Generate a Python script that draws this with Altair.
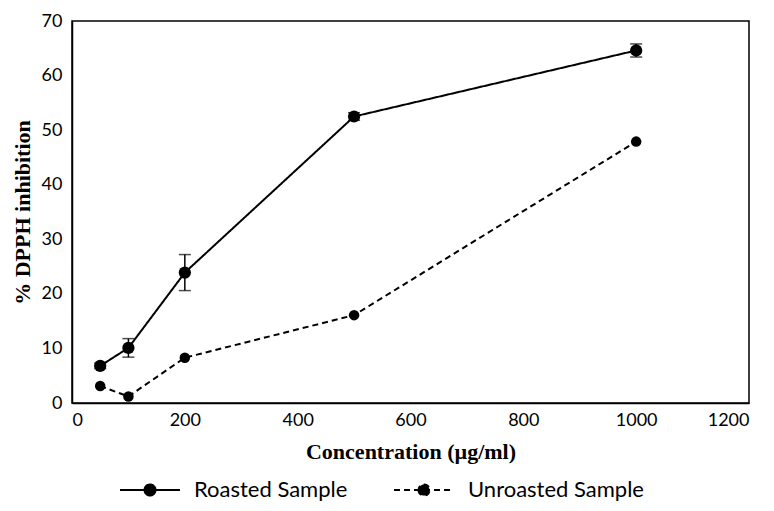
import altair as alt
import pandas as pd

conc = [50, 100, 200, 500, 1000]
roasted = [6.8, 10.1, 23.9, 52.5, 64.6]
roasted_err = [0.5, 1.7, 3.3, 0.7, 1.2]
unroasted = [3.1, 1.2, 8.3, 16.1, 47.9]
series = ["Roasted Sample", "Unroasted Sample"]
x_ticks = [0, 200, 400, 600, 800, 1000, 1200]
y_ticks = [0, 10, 20, 30, 40, 50, 60, 70]

df = pd.DataFrame({
    "conc": conc + conc,
    "value": roasted + unroasted,
    "sample": [series[0]] * len(conc) + [series[1]] * len(conc),
})
err = pd.DataFrame({
    "conc": conc,
    "lo": [v - e for v, e in zip(roasted, roasted_err)],
    "hi": [v + e for v, e in zip(roasted, roasted_err)],
})

YT = "% DPPH inhibition"
XT = "Concentration (µg/ml)"
xs = alt.Scale(domain=[0, 1200], nice=False)
ys = alt.Scale(domain=[0, 70], nice=False)
xax = alt.Axis(values=x_ticks, title=XT, format="d")
yax = alt.Axis(values=y_ticks, title=YT, format="d")

legend_path = ("M-3,0L3,0M-0.55,0A0.55,0.55,0,1,0,0.55,0"
               "A0.55,0.55,0,1,0,-0.55,0Z")

lines = alt.Chart(df).mark_line(color="black", strokeWidth=2).encode(
    x=alt.X("conc:Q", scale=xs, axis=xax),
    y=alt.Y("value:Q", scale=ys, axis=yax),
    strokeDash=alt.StrokeDash(
        "sample:N",
        scale=alt.Scale(domain=series, range=[[1, 0], [6, 4]]),
        legend=alt.Legend(
            title=None, orient="none", legendX=48, legendY=458,
            direction="horizontal", symbolType=legend_path, symbolSize=400,
            symbolStrokeWidth=2, symbolFillColor="black",
            symbolStrokeColor="black", labelFont="Lato", labelFontSize=22,
            labelColor="black", labelLimit=300, symbolOffset=19,
            labelOffset=33, columnPadding=42,
        ),
    ),
)

pts_r = alt.Chart(df).transform_filter(
    alt.datum.sample == series[0]
).mark_point(filled=True, color="black", opacity=1, size=150).encode(
    x=alt.X("conc:Q", scale=xs, axis=xax),
    y=alt.Y("value:Q", scale=ys, axis=yax),
)
pts_u = alt.Chart(df).transform_filter(
    alt.datum.sample == series[1]
).mark_point(filled=True, color="black", opacity=1, size=110).encode(
    x=alt.X("conc:Q", scale=xs, axis=xax),
    y=alt.Y("value:Q", scale=ys, axis=yax),
)

rule = alt.Chart(err).mark_rule(color="black", strokeWidth=1.5).encode(
    x=alt.X("conc:Q", scale=xs, axis=xax),
    y=alt.Y("lo:Q", scale=ys, axis=yax),
    y2="hi:Q",
)
cap_lo = alt.Chart(err).mark_tick(
    color="black", orient="horizontal", size=12, thickness=1.5
).encode(
    x=alt.X("conc:Q", scale=xs, axis=xax),
    y=alt.Y("lo:Q", scale=ys, axis=yax),
)
cap_hi = alt.Chart(err).mark_tick(
    color="black", orient="horizontal", size=12, thickness=1.5
).encode(
    x=alt.X("conc:Q", scale=xs, axis=xax),
    y=alt.Y("hi:Q", scale=ys, axis=yax),
)

chart = alt.layer(lines, rule, cap_lo, cap_hi, pts_r, pts_u).properties(
    width=677, height=382,
    padding={"left": 64, "top": 13, "right": 17, "bottom": 100},
    autosize="none",
    background="white",
).configure_view(
    stroke="black", strokeWidth=1.5
).configure_axis(
    grid=False, ticks=False, domainColor="black", domainWidth=1.5,
    labelFont="Lato", labelFontSize=18, labelColor="black",
    titleFont="Liberation Serif", titleFontWeight="bold", titleFontSize=22,
    titleColor="black",
).configure_axisX(
    labelPadding=8, titlePadding=12
).configure_axisY(
    labelPadding=10, titlePadding=7
)

chart.save("out.html", embed_options={"renderer": "svg", "actions": False})
